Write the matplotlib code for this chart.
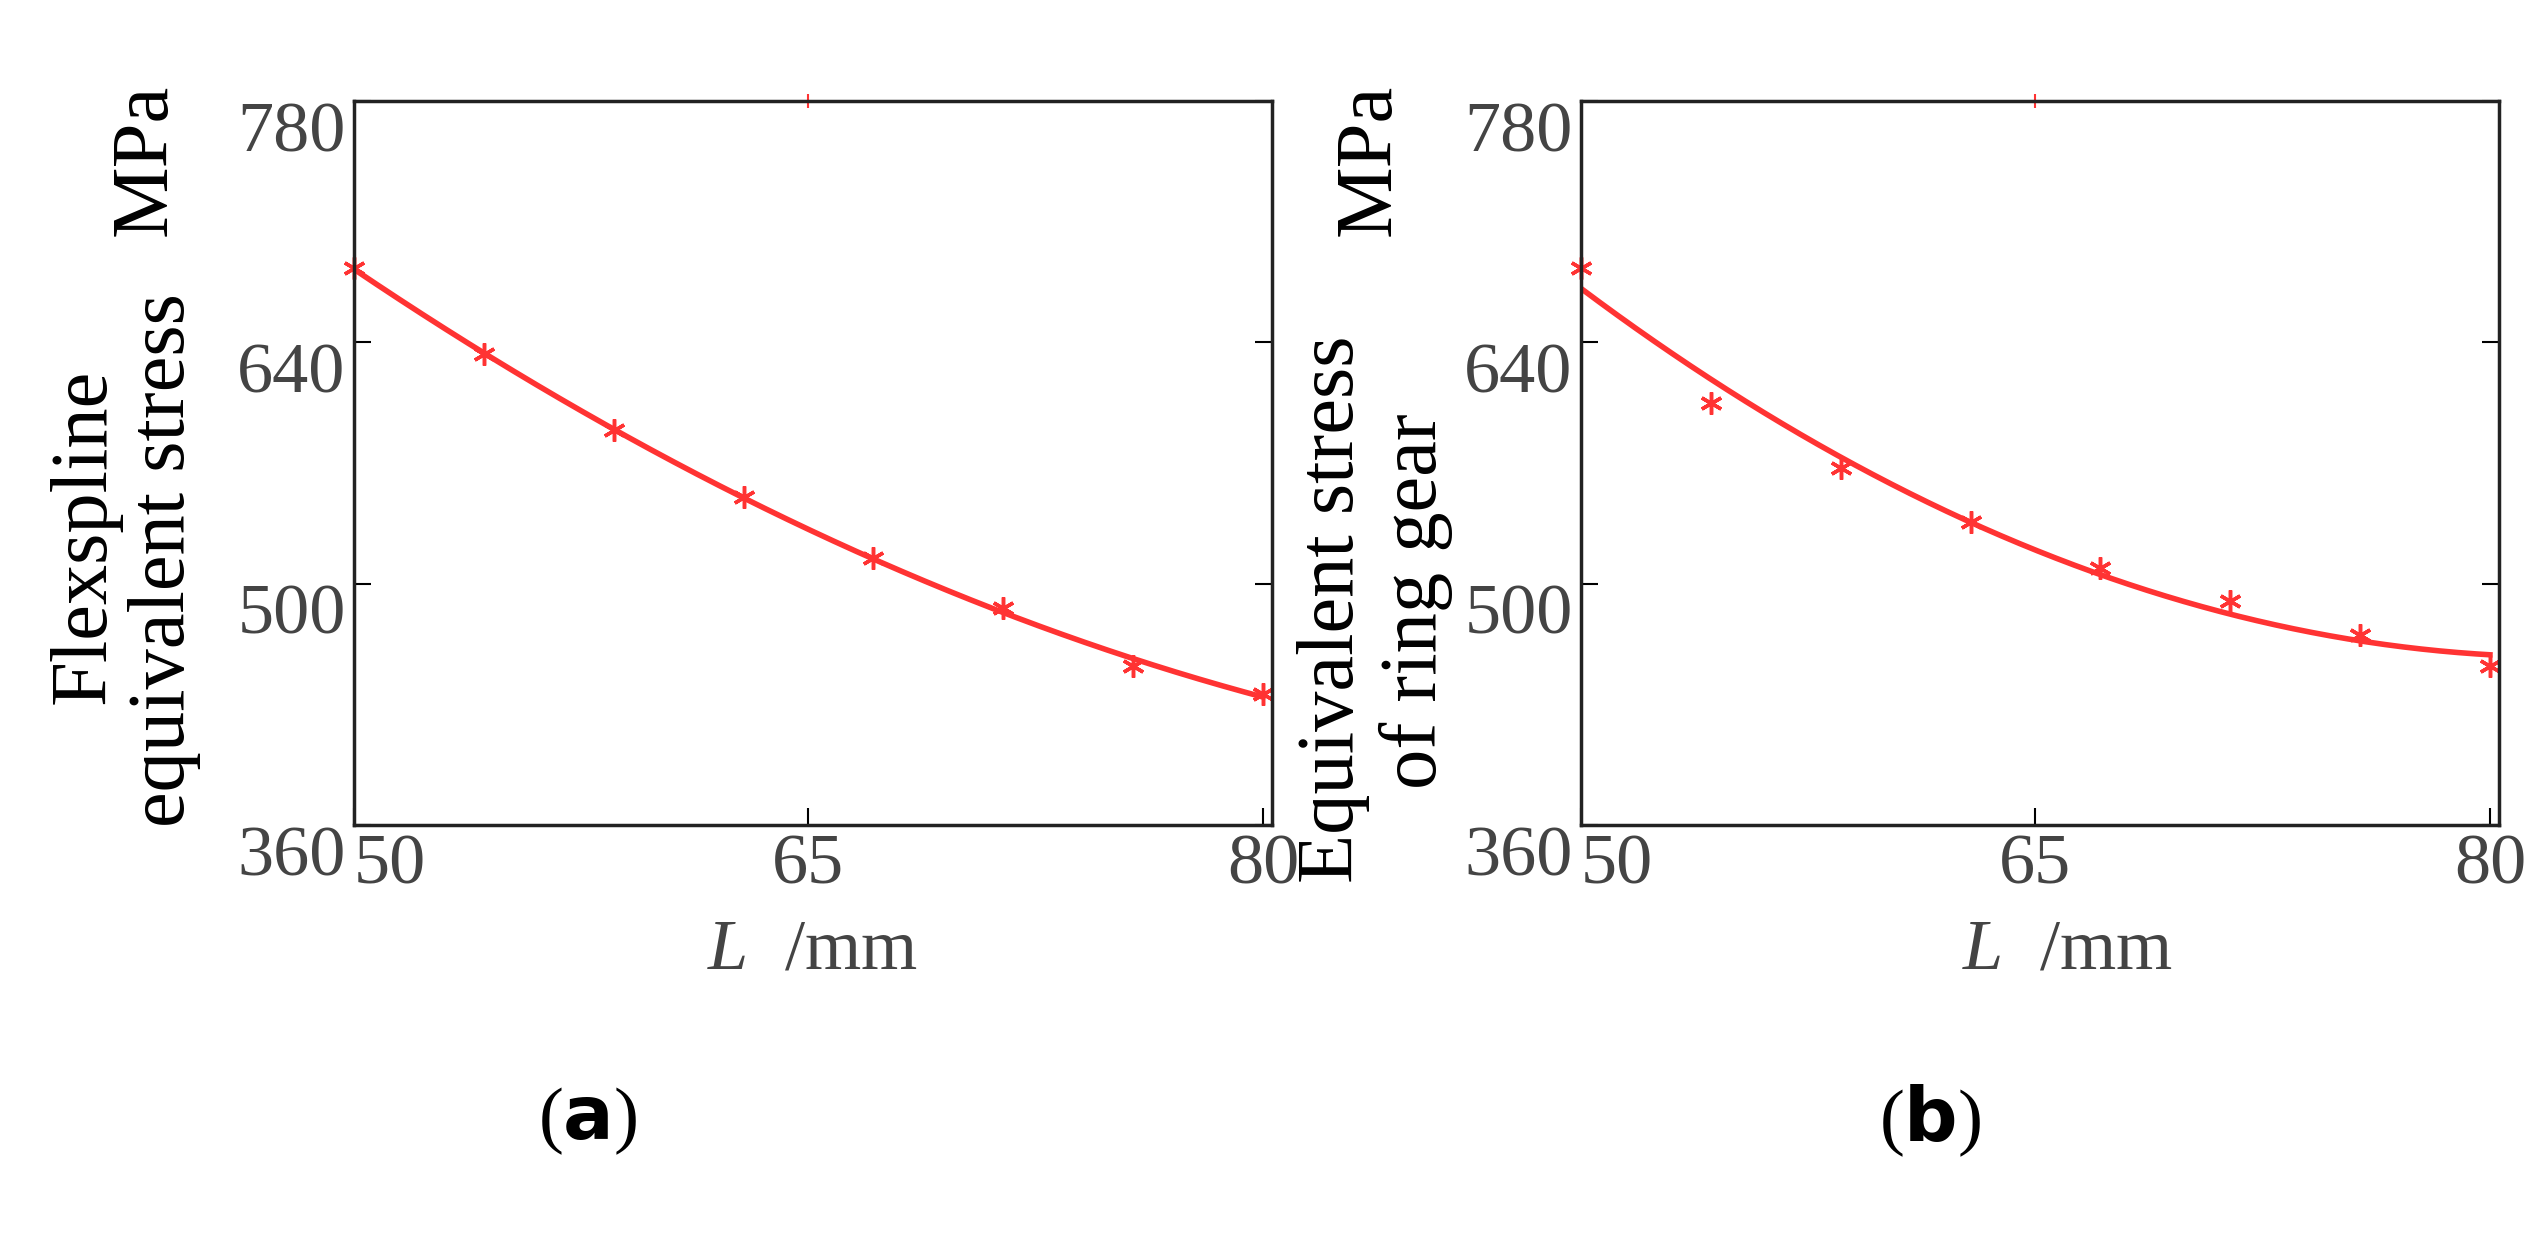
import numpy as np
import matplotlib
matplotlib.use("Agg")
import matplotlib.pyplot as plt

L = [50, 54.29, 58.57, 62.86, 67.14, 71.43, 75.71, 80]
stress_a = [683, 633, 589, 550, 515, 486, 452, 436]
stress_b = [683, 605, 567, 536, 509, 490, 470, 452]
xticks = [50, 65, 80]
yticks = [360, 500, 640, 780]

plt.rcParams['font.family'] = ['Liberation Serif', 'DejaVu Serif']
plt.rcParams['mathtext.fontset'] = 'custom'
plt.rcParams['mathtext.it'] = 'Liberation Serif:italic'
plt.rcParams['mathtext.rm'] = 'Liberation Serif'
W, H = 2548, 1234
fig = plt.figure(figsize=(W/100, H/100), dpi=100)
red = '#ff3333'
grey = '#444444'

def make(ax_rect, y, fitdeg):
    ax = fig.add_axes(ax_rect)
    xs = np.linspace(50, 80, 200)
    c = np.polyfit(L, y, fitdeg)
    ax.plot(xs, np.polyval(c, xs), color=red, lw=4)
    ax.plot(L, y, ls='none', marker=(6, 2, 0), ms=16, mew=2.5, color=red, clip_on=False)
    ax.plot([65], [780], ls='none', marker='|', ms=10, mew=1.5, color=red, clip_on=False)
    ax.set_xlim(50, 80.3)
    ax.set_ylim(360, 780)
    ax.set_xticks(xticks)
    ax.set_yticks(yticks)
    ax.tick_params(direction='in', length=12, width=1.5, top=False, right=True,
                   labelsize=52, labelcolor=grey, pad=6)
    for lab in ax.get_yticklabels():
        lab.set_va('top')
    for lab, ha in zip(ax.get_xticklabels(), ['left', 'center', 'center']):
        lab.set_ha(ha)
    for s in ax.spines.values():
        s.set_linewidth(2.5)
        s.set_color('#222222')
    return ax

def fx(p): return p / W
def fy(p): return 1 - p / H

make([fx(354), fy(825), fx(1272 - 354), (825 - 101) / H], stress_a, 2)
make([fx(1581), fy(825), fx(2499 - 1581), (825 - 101) / H], stress_b, 2)

fs = 58
fig.text(fx(85), fy(536), 'Flexspline', rotation=90, ha='center', va='center', fontsize=fs)
fig.text(fx(165), fy(560), 'equivalent stress', rotation=90, ha='center', va='center', fontsize=fs)
fig.text(fx(146), fy(160), 'MPa', rotation=90, ha='center', va='center', fontsize=fs)
fig.text(fx(1333), fy(609), 'Equivalent stress', rotation=90, ha='center', va='center', fontsize=fs)
fig.text(fx(1416), fy(601), 'of ring gear', rotation=90, ha='center', va='center', fontsize=fs)
fig.text(fx(1370), fy(160), 'MPa', rotation=90, ha='center', va='center', fontsize=fs)
for cx in (812, 2067):
    fig.text(fx(cx), fy(951), r'$L$  /mm', ha='center', va='center', fontsize=52, color=grey)
fig.text(fx(588), fy(1121), r'($\mathbf{a}$)', ha='center', va='center', fontsize=54)
fig.text(fx(1930), fy(1121), r'($\mathbf{b}$)', ha='center', va='center', fontsize=54)
fig.savefig('out.png', dpi=100)
